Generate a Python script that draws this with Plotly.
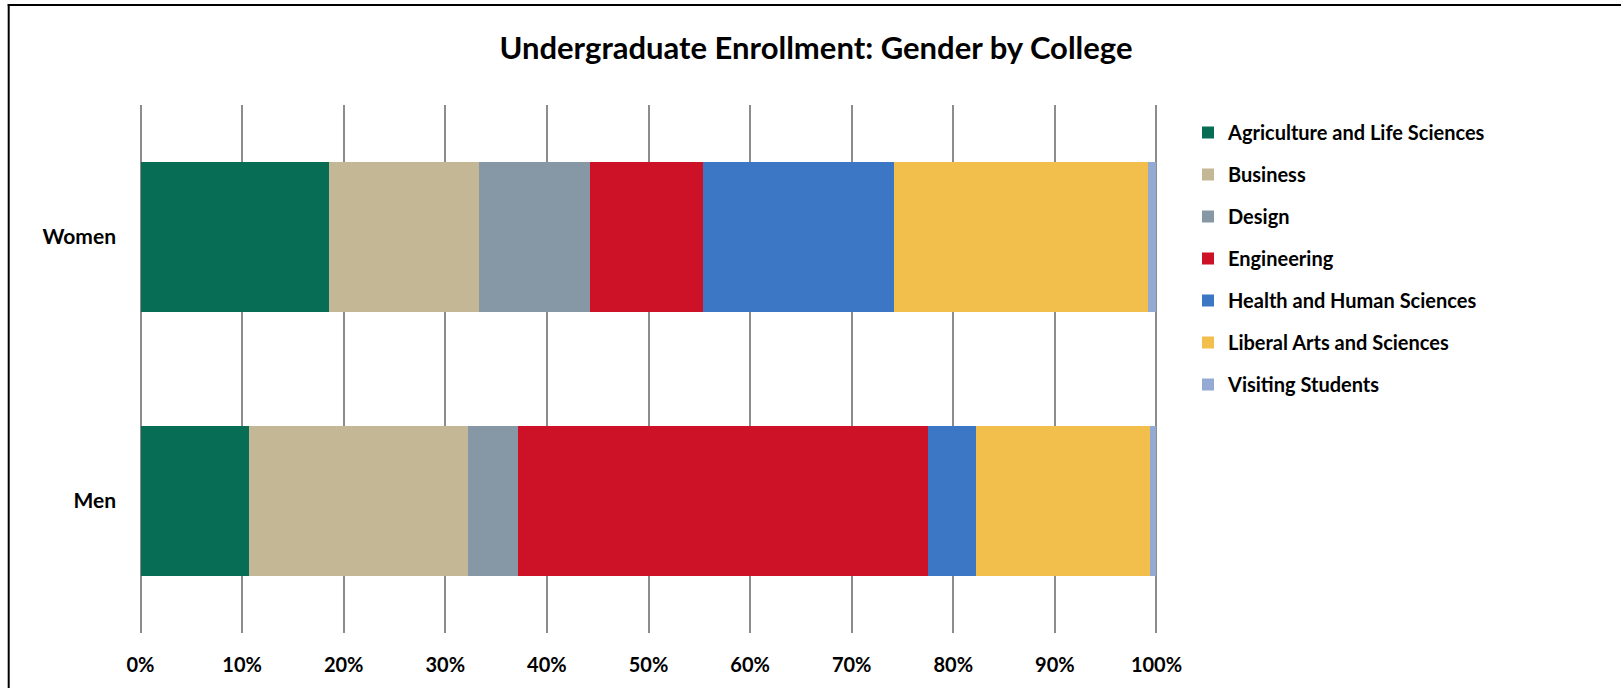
import plotly.graph_objects as go

categories = ["Men", "Women"]
colleges = ["Agriculture and Life Sciences", "Business", "Design", "Engineering",
            "Health and Human Sciences", "Liberal Arts and Sciences", "Visiting Students"]
# shares in percent, order: [Men, Women]
agriculture = [10.7, 18.6]
business = [21.5, 14.7]
design = [5.0, 10.9]
engineering = [40.3, 11.2]
health = [4.7, 18.8]
liberal_arts = [17.2, 25.0]
visiting = [0.6, 0.8]
series = [agriculture, business, design, engineering, health, liberal_arts, visiting]
colors = ["#076D54", "#C4B795", "#8698A6", "#CD1127", "#3B77C4", "#F2BF4C", "#94AAD3"]
x_ticks = list(range(0, 101, 10))
x_tick_labels = [f"{v}%" for v in x_ticks]

W, H = 1621, 688
ML, MR, MT, MB = 139, 463, 105, 55
FONT = "Lato"
XR = [-0.15, 100.15]

fig = go.Figure()
for name, vals, col in zip(colleges, series, colors):
    fig.add_trace(go.Bar(
        y=categories, x=vals, name=name, orientation="h",
        marker=dict(color=col, line=dict(width=0)),
        legendgroup=name,
    ))

pw = W - ML - MR
ph = H - MT - MB
def px2x(px):
    return (px - ML) / pw
def py2y(py):
    return (H - MB - py) / ph

fig.update_layout(
    width=W, height=H,
    margin=dict(l=ML, r=MR, t=MT, b=MB),
    barmode="stack", bargap=0.43,
    paper_bgcolor="white", plot_bgcolor="white",
    font=dict(family=FONT, color="black", size=20),
    title=dict(text="<b>Undergraduate Enrollment: Gender by College</b>",
               x=816 / W, xanchor="center", xref="container",
               y=1 - 48 / H, yanchor="middle", yref="container",
               font=dict(family=FONT, size=31, color="black")),
    xaxis=dict(range=XR, tickvals=x_ticks, ticktext=[f"<b>{t}</b>" for t in x_tick_labels],
               showgrid=True, gridcolor="#8C8C8C", gridwidth=1.5,
               zeroline=False, showline=False, ticks="", ticklabelstandoff=18,
               tickfont=dict(size=20, family=FONT), fixedrange=True),
    yaxis=dict(tickvals=categories, ticktext=[f"<b>{c}</b>" for c in categories],
               showgrid=False, zeroline=False, showline=False, ticks="",
               ticklabelstandoff=22, tickfont=dict(size=21, family=FONT),
               range=[-0.5, 1.5], fixedrange=True),
    legend=dict(x=px2x(1188), xanchor="left", y=py2y(113), yanchor="top",
                font=dict(size=20, family=FONT, weight="bold"),
                traceorder="grouped", tracegroupgap=13, itemclick=False,
                bgcolor="rgba(0,0,0,0)"),
    showlegend=True,
    shapes=[
        dict(type="line", xref="paper", yref="paper",
             x0=px2x(8.7), x1=px2x(8.7), y0=py2y(4), y1=py2y(H + 5),
             line=dict(color="black", width=2)),
        dict(type="line", xref="paper", yref="paper",
             x0=px2x(7.7), x1=px2x(W + 5), y0=py2y(5), y1=py2y(5),
             line=dict(color="black", width=2)),
    ],
)

fig.write_html("out.html", config={"displayModeBar": False},
               post_script="document.body.style.margin='0';")
